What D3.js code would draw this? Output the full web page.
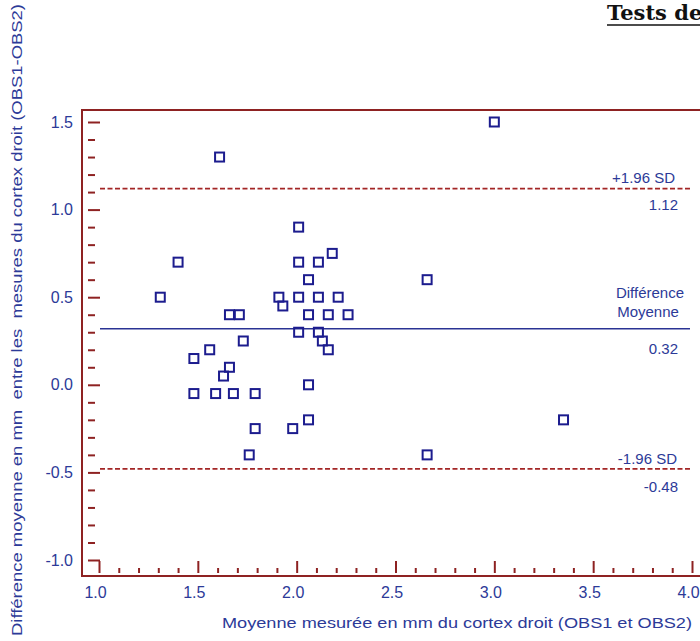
<!DOCTYPE html>
<html>
<head>
<meta charset="utf-8">
<script src="https://cdn.jsdelivr.net/npm/d3@7"></script>
<style>
  html, body { margin: 0; padding: 0; background: #fff; overflow: hidden; }
  svg { display: block; }
  text { font-family: "Liberation Sans", Arial, sans-serif; }
</style>
</head>
<body>
<svg id="chart" width="700" height="641"></svg>
<script>
// Bland-Altman: mean of the two observers vs. their difference (mm)
const meanValues = [1.61, 3.00, 2.01, 1.40, 2.01, 2.11, 2.18, 2.06, 1.31, 1.91,
                    2.01, 2.11, 2.21, 1.93, 1.66, 1.71, 2.06, 2.16, 2.26, 2.66,
                    2.01, 2.11, 2.13, 1.73, 2.16, 1.56, 1.48, 1.66, 1.63, 2.06,
                    1.48, 1.59, 1.68, 1.79, 1.79, 1.98, 2.06, 1.76, 2.66, 3.35];
const diffValues = [1.30, 1.50, 0.90, 0.70, 0.70, 0.70, 0.75, 0.60, 0.50, 0.50,
                    0.50, 0.50, 0.50, 0.45, 0.40, 0.40, 0.40, 0.40, 0.40, 0.60,
                    0.30, 0.30, 0.25, 0.25, 0.20, 0.20, 0.15, 0.10, 0.05, 0.00,
                   -0.05, -0.05, -0.05, -0.05, -0.25, -0.25, -0.20, -0.40, -0.40, -0.20];

// Reference lines: mean difference and limits of agreement
const refValues = [1.12, 0.32, -0.48];
const refNames  = ["+1.96 SD", "Différence Moyenne", "-1.96 SD"];

const xMajorTicks = [1.0, 1.5, 2.0, 2.5, 3.0, 3.5, 4.0];
const yMajorTicks = [-1.0, -0.5, 0.0, 0.5, 1.0, 1.5];

const xTitle = "Moyenne mesurée en mm du cortex droit (OBS1 et OBS2)";
const yTitle = "Différence moyenne en mm  entre les  mesures du cortex droit (OBS1-OBS2)";
const headTitle = "Tests de";

const frameColor = "#8e2222";
const dashColor = "#a32626";
const textColor = "#2c3a98";
const markColor = "#1c1c8e";

const fmt1 = d => d.toFixed(1);
const fmt2 = d => d.toFixed(2);

const svg = d3.select("#chart");

const x = d3.scaleLinear().domain([1, 4]).range([99, 692]);
const y = d3.scaleLinear().domain([-1, 1.5]).range([560, 122]);

// minor ticks every 0.1
const xMinor = d3.range(10, 41).map(d => d / 10).filter(v => !xMajorTicks.some(m => Math.abs(m - v) < 1e-6));
const yMinor = d3.range(-10, 16).map(d => d / 10).filter(v => !yMajorTicks.some(m => Math.abs(m - v) < 1e-6));

// frame
svg.append("rect")
  .attr("x", 82).attr("y", 110)
  .attr("width", 700).attr("height", 466)
  .attr("fill", "none")
  .attr("stroke", frameColor)
  .attr("stroke-width", 2);

// page heading (runs past the right edge)
svg.append("text")
  .attr("x", 607).attr("y", 20)
  .style("font-family", "'DejaVu Serif', 'Liberation Serif', serif")
  .style("font-size", "21px")
  .style("font-weight", "600")
  .attr("fill", "#111")
  .text(headTitle);
svg.append("line")
  .attr("x1", 607).attr("x2", 720)
  .attr("y1", 25).attr("y2", 25)
  .attr("stroke", "#111").attr("stroke-width", 1.6);

// Y axis (ticks drawn inward, detached from the frame)
const yAxisG = svg.append("g").attr("transform", "translate(88,0)");
yAxisG.append("g")
  .call(d3.axisLeft(y).tickValues(yMinor).tickSize(-7).tickFormat(""))
  .call(g => g.select(".domain").remove());
yAxisG.append("g")
  .call(d3.axisLeft(y).tickValues(yMajorTicks).tickSize(-12).tickPadding(15).tickFormat(fmt1))
  .call(g => g.select(".domain").remove());
yAxisG.selectAll(".tick line").attr("stroke", frameColor).attr("stroke-width", 2);
yAxisG.selectAll(".tick text")
  .attr("fill", textColor)
  .style("font-size", "16px")
  .style("font-family", "'Liberation Sans', Arial, sans-serif");

// X axis
const xAxisG = svg.append("g").attr("transform", "translate(0,573)");
xAxisG.append("g")
  .call(d3.axisBottom(x).tickValues(xMinor).tickSize(-5).tickFormat(""))
  .call(g => g.select(".domain").remove());
xAxisG.append("g")
  .call(d3.axisBottom(x).tickValues(xMajorTicks).tickSize(-12).tickPadding(14).tickFormat(fmt1))
  .call(g => g.select(".domain").remove());
xAxisG.selectAll(".tick line").attr("stroke", frameColor).attr("stroke-width", 2);
xAxisG.selectAll(".tick text")
  .attr("fill", textColor)
  .attr("dx", -4)
  .style("font-size", "16px")
  .style("font-family", "'Liberation Sans', Arial, sans-serif");

// reference lines
const lineEnd = 690;
svg.selectAll("line.ref")
  .data(refValues)
  .join("line")
  .attr("class", "ref")
  .attr("x1", x(1) + 1).attr("x2", lineEnd)
  .attr("y1", d => y(d)).attr("y2", d => y(d))
  .attr("stroke", (d, i) => i === 1 ? "#2a3394" : dashColor)
  .attr("stroke-width", 1.6)
  .attr("stroke-dasharray", (d, i) => i === 1 ? null : "5,2.5");

// reference labels
const lab = svg.append("g")
  .attr("fill", textColor)
  .style("font-size", "15px");

lab.append("text").attr("x", 675).attr("y", y(refValues[0]) - 6)
  .attr("text-anchor", "end").text(refNames[0]);
lab.append("text").attr("x", 678).attr("y", y(refValues[0]) + 21)
  .attr("text-anchor", "end").text(fmt2(refValues[0]));

const nameParts = refNames[1].split(" ");
lab.append("text").attr("x", 650).attr("y", y(refValues[1]) - 31)
  .attr("text-anchor", "middle").text(nameParts[0]);
lab.append("text").attr("x", 648).attr("y", y(refValues[1]) - 12)
  .attr("text-anchor", "middle").text(nameParts[1]);
lab.append("text").attr("x", 678).attr("y", y(refValues[1]) + 25)
  .attr("text-anchor", "end").text(fmt2(refValues[1]));

lab.append("text").attr("x", 677).attr("y", y(refValues[2]) - 5)
  .attr("text-anchor", "end").text(refNames[2]);
lab.append("text").attr("x", 678).attr("y", y(refValues[2]) + 23)
  .attr("text-anchor", "end").text(fmt2(refValues[2]));

// points as open squares
const pts = meanValues.map((m, i) => ({ m, d: diffValues[i] }));
svg.append("g")
  .selectAll("rect")
  .data(pts)
  .join("rect")
  .attr("x", p => x(p.m) - 4.5)
  .attr("y", p => y(p.d) - 4.5)
  .attr("width", 9).attr("height", 9)
  .attr("fill", "none")
  .attr("stroke", markColor)
  .attr("stroke-width", 2);

// axis titles
svg.append("text")
  .attr("x", 222).attr("y", 628)
  .attr("fill", textColor)
  .style("font-size", "15px")
  .attr("textLength", 470)
  .attr("lengthAdjust", "spacingAndGlyphs")
  .text(xTitle);

svg.append("text")
  .attr("transform", "translate(22,636) rotate(-90)")
  .attr("fill", textColor)
  .style("font-size", "15px")
  .attr("textLength", 632)
  .attr("lengthAdjust", "spacingAndGlyphs")
  .style("white-space", "pre")
  .text(yTitle);
</script>
</body>
</html>
